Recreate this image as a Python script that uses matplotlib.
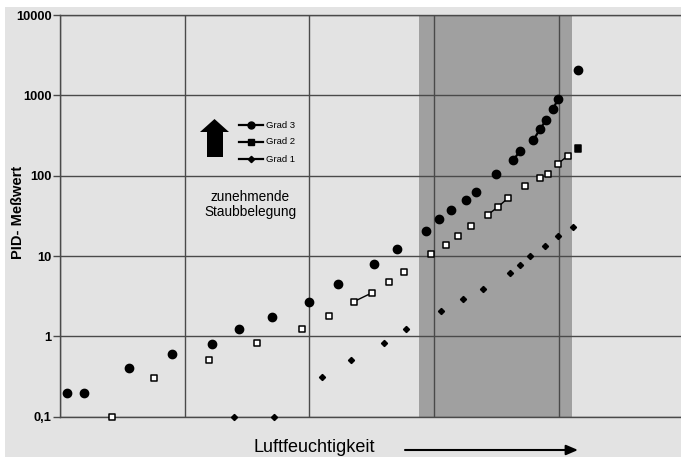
import matplotlib
matplotlib.use("Agg")
import matplotlib.pyplot as plt
from matplotlib.patches import Polygon, Rectangle
from matplotlib.lines import Line2D
from matplotlib.ticker import FixedLocator, FixedFormatter, NullLocator
import numpy as np

plt.rcParams['font.family'] = ['Liberation Sans', 'DejaVu Sans']

# ---------------- data ----------------
grad3_x = [0.054, 0.192, 0.556, 0.898, 1.217, 1.436, 1.700, 1.999, 2.232, 2.518, 2.700,
           2.935, 3.039, 3.138, 3.256, 3.334, 3.496, 3.635, 3.691, 3.796, 3.852, 3.897,
           3.953, 3.996, 4.156]
grad3_y = [0.2, 0.2, 0.4, 0.6, 0.81, 1.22, 1.75, 2.68, 4.45, 7.9, 12.2,
           20.4, 28.7, 37.8, 50, 63.4, 106, 157, 204, 279, 383, 491,
           673, 913, 2080]
grad3_links = [(17, 18), (19, 20), (20, 21), (22, 23)]

grad2_x = [0.415, 0.756, 1.197, 1.577, 1.938, 2.160, 2.355, 2.500, 2.638, 2.756, 2.975,
           3.095, 3.194, 3.296, 3.430, 3.512, 3.595, 3.731, 3.852, 3.911, 3.991, 4.074,
           4.154]
grad2_y = [0.1, 0.306, 0.51, 0.82, 1.24, 1.78, 2.7, 3.47, 4.8, 6.4, 10.6,
           13.9, 17.9, 23.7, 32.5, 40.9, 52.9, 74.6, 94.6, 106, 140, 178,
           218]
grad2_links = [(6, 7), (14, 15), (15, 16), (20, 21)]
grad2_filled = [22]

grad1_x = [1.398, 1.716, 2.099, 2.336, 2.596, 2.777, 3.058, 3.234, 3.392, 3.609, 3.691,
           3.771, 3.892, 3.991, 4.114]
grad1_y = [0.1, 0.1, 0.31, 0.51, 0.83, 1.25, 2.09, 2.92, 3.86, 6.2, 7.8,
           9.9, 13.2, 17.5, 22.8]

shade_range = (2.879, 4.106)
y_ticks = [0.1, 1, 10, 100, 1000, 10000]
y_tick_labels = ['0,1', '1', '10', '100', '1000', '10000']
x_grid = [0, 1, 2, 3, 4]
legend_labels = ['Grad 3', 'Grad 2', 'Grad 1']

# ---------------- figure ----------------
W, H = 681, 457
fig = plt.figure(figsize=(W / 100, H / 100), dpi=100, facecolor='white')
bg = '#e3e3e3'
fig.patches.append(Rectangle((5 / W, 0), 1, (H - 7) / H, transform=fig.transFigure,
                             facecolor=bg, edgecolor='none', zorder=-10))

ax_left, ax_bottom = 60 / W, (H - 416.7) / H
ax_top = (H - 15) / H
ax = fig.add_axes([ax_left, ax_bottom, 1 - ax_left, ax_top - ax_bottom])
ax.set_facecolor(bg)
ax.set_yscale('log')
ax.set_ylim(0.1, 10000)
ax.set_xlim(0, (W - 60) / 124.7)

ax.axvspan(*shade_range, color='#a0a0a0', zorder=0, lw=0)

gc = '#4a4a4a'
for xv in x_grid:
    ax.axvline(xv, color=gc, lw=1.0, zorder=1)
for yv in y_ticks:
    ax.axhline(yv, color=gc, lw=1.0, zorder=1)

ax.yaxis.set_major_locator(FixedLocator(y_ticks))
ax.yaxis.set_major_formatter(FixedFormatter(y_tick_labels))
ax.yaxis.set_minor_locator(NullLocator())
ax.xaxis.set_major_locator(NullLocator())
ax.tick_params(axis='y', length=5, width=1, color=gc, pad=1.0, labelsize=9.3)
for lab in ax.get_yticklabels():
    lab.set_fontweight('bold')
ax.spines['right'].set_visible(False)
for s in ['left', 'bottom', 'top']:
    ax.spines[s].set_color(gc)
    ax.spines[s].set_linewidth(1.0)

# series
ax.plot(grad3_x, grad3_y, 'o', color='black', ms=6.0, zorder=5, clip_on=False)
for a, b in grad3_links:
    ax.plot([grad3_x[a], grad3_x[b]], [grad3_y[a], grad3_y[b]], '-', color='black', lw=1.6, zorder=4)

sq_face = ['black' if i in grad2_filled else 'white' for i in range(len(grad2_x))]
ax.scatter(grad2_x, grad2_y, marker='s', s=19, facecolors=sq_face, edgecolors='black',
           linewidths=1.1, zorder=5, clip_on=False)
for a, b in grad2_links:
    ax.plot([grad2_x[a], grad2_x[b]], [grad2_y[a], grad2_y[b]], '-', color='black', lw=1.0, zorder=4)

ax.plot(grad1_x, grad1_y, 'D', color='black', ms=3.1, zorder=5, clip_on=False)

# ---------------- annotations (figure pixel coords) ----------------
def fx(px):
    return px / W

def fy(py):
    return (H - py) / H

fig.text(fx(18), fy(212), 'PID- Meßwert', fontsize=10.5, fontweight='bold', rotation=90,
         ha='center', va='center', color='black')

# big arrow
arrow_pts = [(207, 157), (223, 157), (223, 132), (229, 132), (214.5, 119), (200, 132), (207, 132)]
fig.patches.append(Polygon([(fx(x), fy(y)) for x, y in arrow_pts], closed=True,
                           transform=fig.transFigure, facecolor='black', edgecolor='none', zorder=10))

# manual legend
leg_y = [125, 142, 159]
leg_markers = [dict(marker='o', ms=5.0), dict(marker='s', ms=4.4), dict(marker='D', ms=3.2)]
for lab, yy, mk in zip(legend_labels, leg_y, leg_markers):
    fig.add_artist(Line2D([fx(239), fx(263)], [fy(yy), fy(yy)], transform=fig.transFigure,
                          color='black', lw=1.6, zorder=10))
    fig.add_artist(Line2D([fx(251)], [fy(yy)], transform=fig.transFigure, color='black',
                          linestyle='none', zorder=10, **mk))
    fig.text(fx(265.5), fy(yy), lab, fontsize=6.8, va='center', ha='left', color='black')

fig.text(fx(250), fy(204.5), 'zunehmende\nStaubbelegung', fontsize=9.8, ha='center', va='center',
         linespacing=1.05, color='black')

fig.text(fx(314), fy(447), 'Luftfeuchtigkeit', fontsize=13, ha='center', va='center', color='black')
ax.annotate('', xy=(fx(578), fy(450)), xytext=(fx(405), fy(450)), xycoords='figure fraction',
            textcoords='figure fraction',
            arrowprops=dict(arrowstyle='-|>,head_length=0.7,head_width=0.3', color='black', lw=1.5,
                            shrinkA=0, shrinkB=0))

fig.savefig('out.png', dpi=100, facecolor='white')
